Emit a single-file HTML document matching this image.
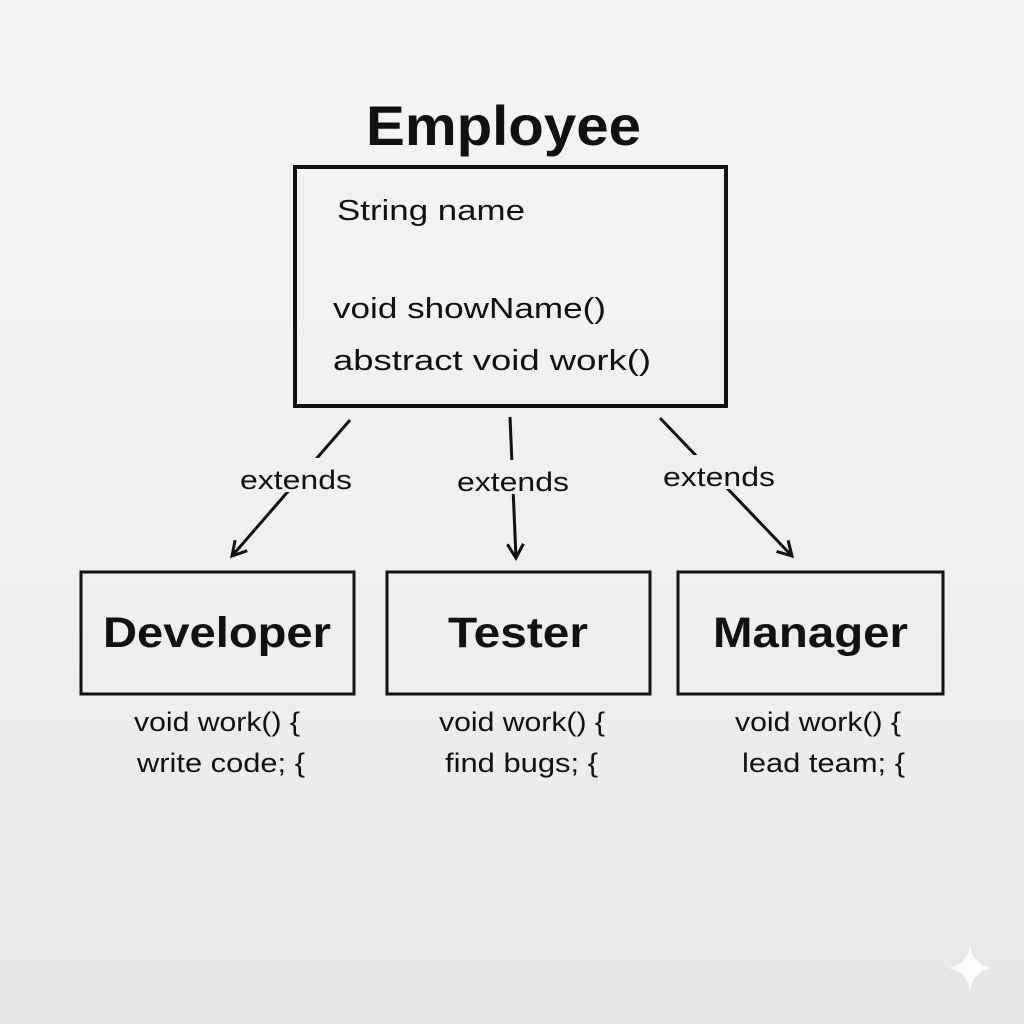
<!DOCTYPE html>
<html><head><style>
html,body{margin:0;padding:0;}
body{width:1024px;height:1024px;background:linear-gradient(180deg,#f4f4f4 0%,#efefef 60%,#e6e6e6 100%);overflow:hidden;}
svg{display:block;}
text{font-family:"Liberation Sans",sans-serif;fill:#111;}
</style></head><body>
<svg width="1024" height="1024" viewBox="0 0 1024 1024">
<defs><marker id="a" viewBox="0 0 20 20" refX="16" refY="10" markerWidth="20" markerHeight="20" markerUnits="userSpaceOnUse" orient="auto"><path d="M2 2 L16 10 L2 18" fill="none" stroke="#111" stroke-width="3"/></marker></defs>
<text x="366" y="145" font-size="56" font-weight="bold" textLength="275" lengthAdjust="spacingAndGlyphs">Employee</text>
<rect x="295" y="167" width="431" height="239" fill="none" stroke="#111" stroke-width="4"/>
<text x="337" y="220" font-size="29" textLength="188" lengthAdjust="spacingAndGlyphs">String name</text>
<text x="333" y="318" font-size="29" textLength="273" lengthAdjust="spacingAndGlyphs">void showName()</text>
<text x="333" y="370" font-size="29" textLength="318" lengthAdjust="spacingAndGlyphs">abstract void work()</text>
<g stroke="#111" stroke-width="3" fill="none">
<line x1="350" y1="420" x2="232" y2="556" marker-end="url(#a)"/>
<line x1="510" y1="417" x2="516" y2="558" marker-end="url(#a)"/>
<line x1="660" y1="418" x2="792" y2="556" marker-end="url(#a)"/>
</g>
<g font-size="27">
<rect x="236" y="458" width="122" height="34" fill="#f0f0f0"/>
<rect x="453" y="460" width="122" height="34" fill="#f0f0f0"/>
<rect x="659" y="455" width="122" height="34" fill="#f0f0f0"/>
<text x="240" y="489" textLength="112" lengthAdjust="spacingAndGlyphs">extends</text>
<text x="457" y="491" textLength="112" lengthAdjust="spacingAndGlyphs">extends</text>
<text x="663" y="486" textLength="112" lengthAdjust="spacingAndGlyphs">extends</text>
</g>
<g fill="none" stroke="#111" stroke-width="3">
<rect x="81" y="572" width="273" height="122"/>
<rect x="387" y="572" width="263" height="122"/>
<rect x="678" y="572" width="265" height="122"/>
</g>
<g font-size="43" font-weight="bold">
<text x="103" y="647" textLength="228" lengthAdjust="spacingAndGlyphs">Developer</text>
<text x="448" y="647" textLength="140" lengthAdjust="spacingAndGlyphs">Tester</text>
<text x="713" y="647" textLength="195" lengthAdjust="spacingAndGlyphs">Manager</text>
</g>
<g font-size="27">
<text x="134" y="731" textLength="166" lengthAdjust="spacingAndGlyphs">void work() {</text>
<text x="137" y="772" textLength="168" lengthAdjust="spacingAndGlyphs">write code; {</text>
<text x="439" y="731" textLength="166" lengthAdjust="spacingAndGlyphs">void work() {</text>
<text x="445" y="772" textLength="153" lengthAdjust="spacingAndGlyphs">find bugs; {</text>
<text x="735" y="731" textLength="166" lengthAdjust="spacingAndGlyphs">void work() {</text>
<text x="742" y="772" textLength="163" lengthAdjust="spacingAndGlyphs">lead team; {</text>
</g>
<path d="M970 946 Q973 965 992 968 Q973 971 970 990 Q967 971 948 968 Q967 965 970 946Z" fill="#fff" opacity="0.9"/>
</svg>
</body></html>
